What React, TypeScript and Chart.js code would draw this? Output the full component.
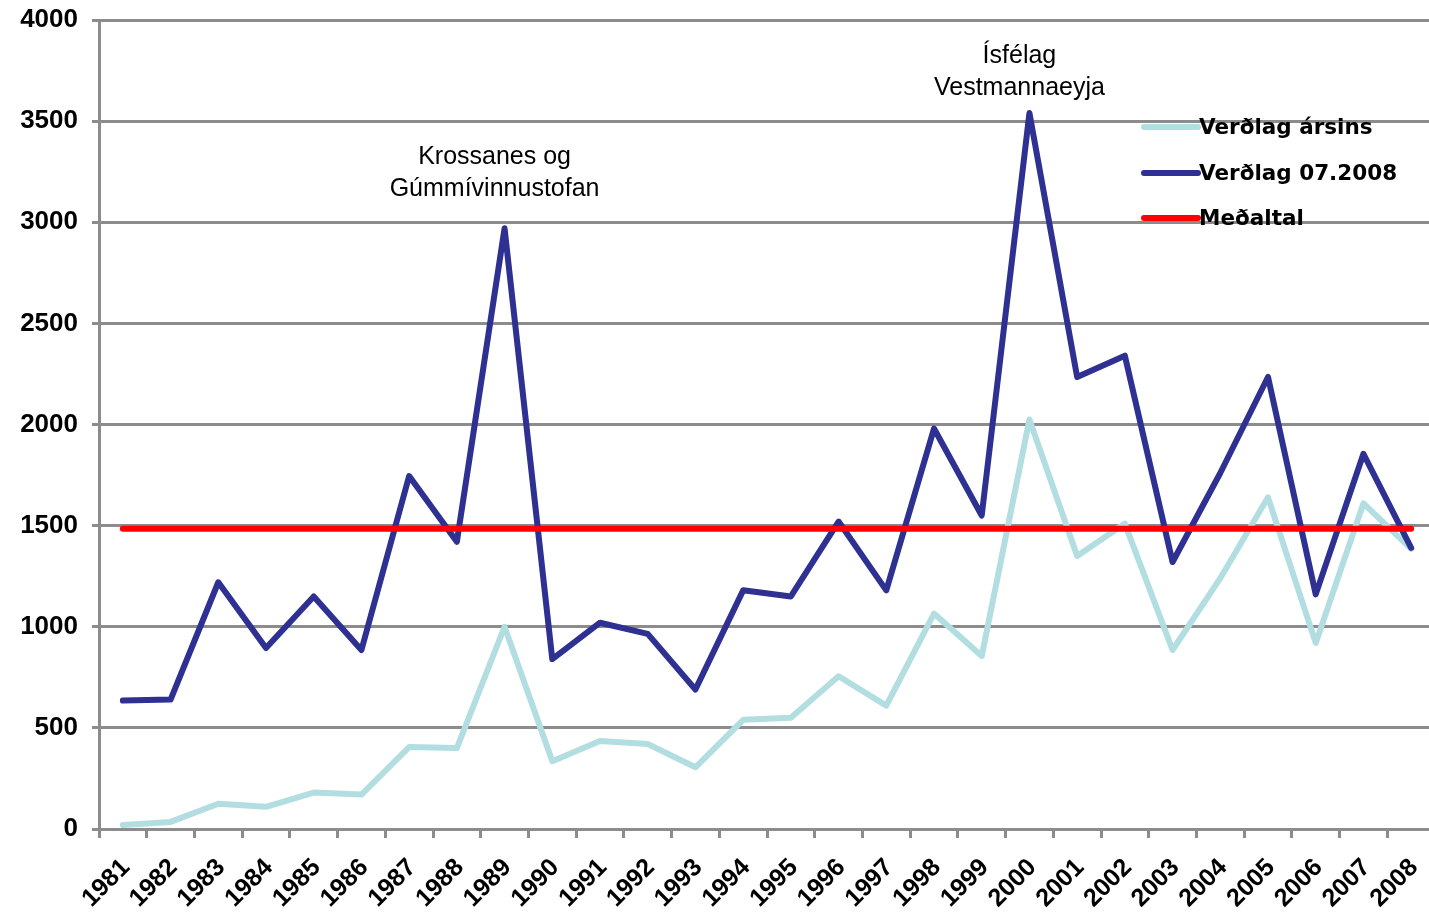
import React, { useEffect, useRef } from "react";
import { Chart, registerables } from "chart.js";

Chart.register(...registerables);

const years = [
  "1981", "1982", "1983", "1984", "1985", "1986", "1987", "1988", "1989", "1990",
  "1991", "1992", "1993", "1994", "1995", "1996", "1997", "1998", "1999", "2000",
  "2001", "2002", "2003", "2004", "2005", "2006", "2007", "2008",
];

const verdlagArsins = [
  20, 35, 125, 110, 180, 170, 405, 400, 1000, 335,
  435, 420, 305, 540, 550, 755, 610, 1065, 855, 2025,
  1350, 1510, 885, 1240, 1640, 920, 1610, 1385,
];

const verdlag072008 = [
  635, 640, 1220, 895, 1150, 885, 1745, 1420, 2970, 840,
  1020, 965, 690, 1180, 1150, 1520, 1180, 1980, 1550, 3540,
  2235, 2340, 1320, 1760, 2235, 1160, 1855, 1390,
];

const medaltalValue = 1485;
const medaltal = years.map(() => medaltalValue);

const yTicks = [0, 500, 1000, 1500, 2000, 2500, 3000, 3500, 4000];

const seriesLabels = ["Verðlag ársins", "Verðlag 07.2008", "Meðaltal"];
const seriesColors = ["#B3DEE1", "#2E3192", "#FF0000"];

const annotationLines1 = ["Krossanes og", "Gúmmívinnustofan"];
const annotationLines2 = ["Ísfélag", "Vestmannaeyja"];

const GRID = "#8C8C8C";

export default function App() {
  const ref = useRef<HTMLCanvasElement | null>(null);

  useEffect(() => {
    if (!ref.current) return;

    const overlay = {
      id: "overlay",
      afterDraw(chart: any) {
        const ctx = chart.ctx;
        const xs = chart.scales.x;
        const ys = chart.scales.y;
        ctx.save();
        ctx.fillStyle = "#000";
        ctx.textAlign = "center";
        ctx.textBaseline = "middle";
        ctx.font = "25px 'Liberation Sans', Arial, sans-serif";
        const drawAnn = (lines: string[], idx: number, yVal: number) => {
          const cx = xs.getPixelForValue(idx) - 10;
          const y0 = ys.getPixelForValue(yVal);
          lines.forEach((l, i) => ctx.fillText(l, cx, y0 + i * 32));
        };
        drawAnn(annotationLines1, 8, 3320);
        drawAnn(annotationLines2, 19, 3820);

        const lx = chart.chartArea.right - 291;
        const ly = [127, 173, 218];
        ctx.textAlign = "left";
        ctx.font = "bold 21.5px 'DejaVu Sans', Verdana, sans-serif";
        seriesLabels.forEach((lab, i) => {
          ctx.strokeStyle = seriesColors[i];
          ctx.lineWidth = 6;
          ctx.lineCap = "round";
          ctx.beginPath();
          ctx.moveTo(lx, ly[i]);
          ctx.lineTo(lx + 54, ly[i]);
          ctx.stroke();
          ctx.fillStyle = "#000";
          ctx.fillText(lab, lx + 55, ly[i] + 1);
        });
        ctx.restore();
      },
    };

    const chart = new Chart(ref.current, {
      type: "line",
      data: {
        labels: years,
        datasets: [
          {
            label: seriesLabels[0],
            data: verdlagArsins,
            borderColor: seriesColors[0],
            backgroundColor: seriesColors[0],
            borderWidth: 6,
            pointRadius: 0,
            tension: 0,
            borderCapStyle: "round",
            borderJoinStyle: "round",
            order: 3,
          },
          {
            label: seriesLabels[1],
            data: verdlag072008,
            borderColor: seriesColors[1],
            backgroundColor: seriesColors[1],
            borderWidth: 6,
            pointRadius: 0,
            tension: 0,
            borderCapStyle: "round",
            borderJoinStyle: "round",
            order: 2,
          },
          {
            label: seriesLabels[2],
            data: medaltal,
            borderColor: seriesColors[2],
            backgroundColor: seriesColors[2],
            borderWidth: 6,
            pointRadius: 0,
            tension: 0,
            borderCapStyle: "round",
            order: 1,
          },
        ],
      },
      options: {
        responsive: false,
        animation: false,
        layout: { padding: { top: 20, left: 0, right: 0, bottom: 0 } },
        plugins: {
          legend: { display: false },
          tooltip: { enabled: false },
        },
        scales: {
          x: {
            type: "category",
            offset: true,
            grid: {
              display: true,
              drawOnChartArea: false,
              drawTicks: true,
              tickLength: 9,
              color: GRID,
              lineWidth: 3,
              offset: true,
            },
            border: { display: true, color: GRID, width: 3 },
            ticks: {
              autoSkip: false,
              maxRotation: 45,
              minRotation: 45,
              padding: 15,
              labelOffset: 3,
              color: "#000",
              font: { family: "'Liberation Sans', Arial, sans-serif", size: 25, weight: "bold" },
            },
            afterFit: (s: any) => {
              s.height = 88;
              s.paddingLeft = 0;
              s.paddingRight = 0;
            },
          },
          y: {
            min: 0,
            max: 4000,
            afterBuildTicks: (s: any) => {
              s.ticks = yTicks.map((v) => ({ value: v }));
            },
            grid: {
              color: GRID,
              lineWidth: 3,
              tickLength: 7,
              drawTicks: true,
            },
            border: { display: true, color: GRID, width: 3 },
            ticks: {
              padding: 14,
              color: "#000",
              callback: (v: any) => String(v),
              font: { family: "'Liberation Sans', Arial, sans-serif", size: 26, weight: "bold" },
            },
            afterFit: (s: any) => {
              s.width = 99;
              s.paddingTop = 0;
              s.paddingBottom = 0;
            },
          },
        },
      },
      plugins: [overlay],
    } as any);

    return () => chart.destroy();
  }, []);

  return (
    <div
      style={{
        position: "fixed",
        left: 0,
        top: 0,
        width: 1429,
        height: 917,
        overflow: "hidden",
        background: "#fff",
      }}
    >
      <canvas ref={ref} width={1435} height={917} style={{ width: 1435, height: 917, display: "block" }} />
    </div>
  );
}
